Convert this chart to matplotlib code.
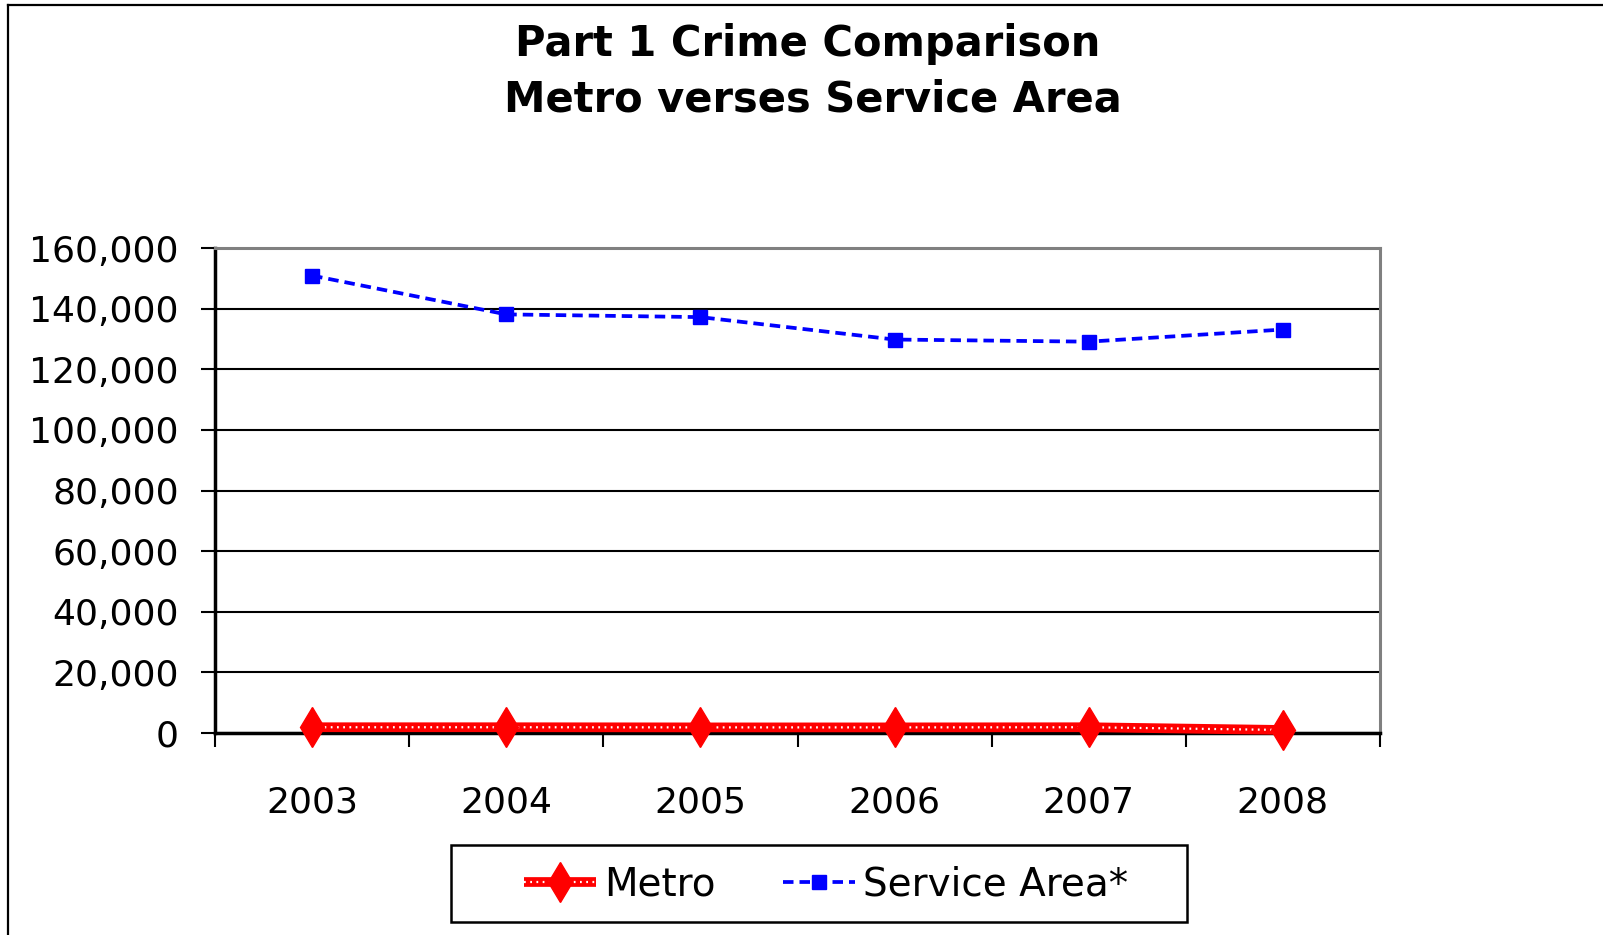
import matplotlib
matplotlib.use("Agg")
import matplotlib.pyplot as plt
from matplotlib.lines import Line2D
from matplotlib.patches import Rectangle
from matplotlib.ticker import FuncFormatter, FixedLocator
from matplotlib.legend_handler import HandlerTuple

plt.rcParams['font.family'] = ['DejaVu Sans']

years = ['2003', '2004', '2005', '2006', '2007', '2008']
metro = [1900, 1900, 1850, 1850, 1900, 1000]
service_area = [150900, 138100, 137200, 129800, 129100, 133100]

fig = plt.figure(figsize=(16.03, 9.35), dpi=100)
W, H = 1603, 935
ax = fig.add_axes([215 / W, 1 - 733 / H, (1380 - 215) / W, (733 - 248) / H])

x = list(range(len(years)))

# metro: thick red line with white dots, diamond markers on top
m_line, = ax.plot(x, metro, color='#ff0000', lw=7, solid_capstyle='butt', zorder=4, clip_on=False)
m_dots, = ax.plot(x, metro, color='white', lw=1.6, linestyle=(0, (0.8, 2.0)), zorder=5, clip_on=False)
m_mark, = ax.plot(x, metro, linestyle='none', marker='d', markersize=20,
                  markerfacecolor='#ff0000', markeredgecolor='#ff0000', zorder=6, clip_on=False)

s_line, = ax.plot(x, service_area, color='#0000ff', lw=2.7, linestyle=(0, (2.8, 1.6)),
                  marker='s', markersize=10, markerfacecolor='#0000ff',
                  markeredgecolor='#0000ff', zorder=4)

ax.set_xlim(-0.5, len(years) - 0.5)
ax.set_ylim(0, 160000)
ax.yaxis.set_major_locator(FixedLocator(range(0, 160001, 20000)))
ax.yaxis.set_major_formatter(FuncFormatter(lambda v, p: f'{int(v):,}'))
ax.grid(axis='y', color='black', lw=1.5)
ax.set_axisbelow(True)

ax.set_xticks([i - 0.5 for i in range(len(years) + 1)])
ax.set_xticklabels([])
ax.set_xticks(x, minor=True)
ax.set_xticklabels(years, minor=True)
ax.tick_params(axis='x', which='major', direction='out', length=10, width=1.5, color='black')
ax.tick_params(axis='x', which='minor', length=0, pad=38, labelsize=26)
ax.tick_params(axis='y', direction='out', length=10, width=1.5, pad=16, labelsize=26)

for s in ['left', 'bottom']:
    ax.spines[s].set_color('black')
    ax.spines[s].set_linewidth(2.5)
for s in ['top', 'right']:
    ax.spines[s].set_color('#808080')
    ax.spines[s].set_linewidth(2.2)

fig.text(808 / W, 1 - 44 / H, 'Part 1 Crime Comparison',
         ha='center', va='center', fontsize=30, fontweight='bold')
fig.text(813 / W, 1 - 100 / H, 'Metro verses Service Area',
         ha='center', va='center', fontsize=30, fontweight='bold')

# legend box
fig.patches.append(Rectangle((451 / W, 1 - 922 / H), (1187 - 451) / W, (922 - 845) / H,
                             transform=fig.transFigure, fill=False, edgecolor='black', lw=1.8))
fig.legend([(m_line, m_dots, m_mark), s_line], ['Metro', 'Service Area*'],
           handler_map={tuple: HandlerTuple(ndivide=1)},
           loc='center', bbox_to_anchor=(826 / W, 1 - 885 / H), ncol=2, frameon=False,
           fontsize=28, handlelength=1.85, handletextpad=0.2, columnspacing=1.75)

# outer chart border
fig.add_artist(Line2D([8 / W, 8 / W], [0, 1 - 5 / H], transform=fig.transFigure, color='black', lw=1.6))
fig.add_artist(Line2D([8 / W, 1], [1 - 5 / H, 1 - 5 / H], transform=fig.transFigure, color='black', lw=1.6))

fig.savefig('out.png', dpi=100)
